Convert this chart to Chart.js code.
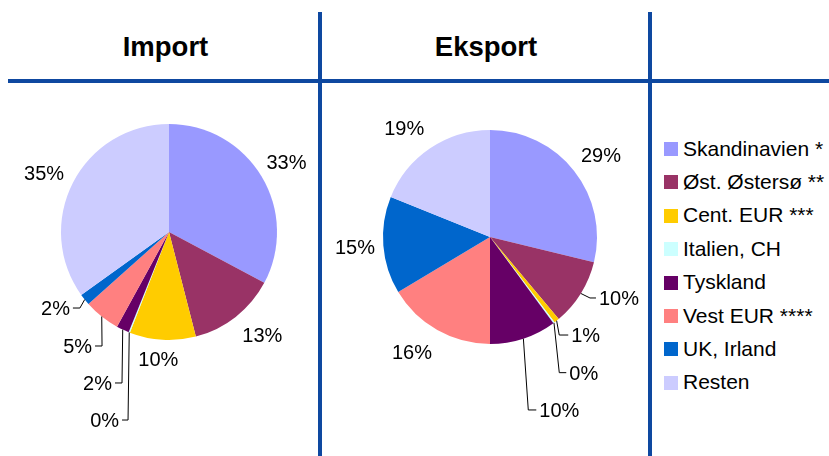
<!DOCTYPE html>
<html><head><meta charset="utf-8">
<script src="https://cdn.jsdelivr.net/npm/chart.js@4.4.0/dist/chart.umd.min.js"></script>
<style>
html,body{margin:0;padding:0;background:#fff;width:829px;height:456px;overflow:hidden;position:relative;font-family:"Liberation Sans",Arial,sans-serif;}
.ln{position:absolute;background:#0E48A0;z-index:2;}
.hdr{position:absolute;font-weight:bold;font-size:27.5px;line-height:30px;color:#000;text-align:center;width:200px;}
canvas{position:absolute;}
.lg-sq{position:absolute;width:14px;height:14px;}
.lg-tx{position:absolute;font-size:21px;line-height:21px;white-space:nowrap;color:#000;}
</style></head><body>
<canvas id="cImport" width="318" height="366" style="left:0;top:90px;"></canvas>
<canvas id="cEksport" width="324" height="366" style="left:324px;top:90px;"></canvas>
<div class="ln" style="left:8px;top:79px;width:821px;height:4px;"></div>
<div class="ln" style="left:318px;top:12px;width:4px;height:444px;"></div>
<div class="ln" style="left:648px;top:12px;width:4px;height:444px;"></div>
<div id="h0" class="hdr" style="left:65.5px;top:31.5px;"></div>
<div id="h1" class="hdr" style="left:386px;top:31.5px;"></div>
<div id="legend"></div>
<script>
const categories = ['Skandinavien *','Øst. Østersø **','Cent. EUR ***','Italien, CH','Tyskland','Vest EUR ****','UK, Irland','Resten'];
const importValues = [32.8, 13.2, 9.9, 0.2, 1.9, 5.4, 1.7, 34.9];
const eksportValues = [28.8, 10.1, 0.8, 0.2, 10.1, 16.4, 14.7, 18.9];
const sliceColors = ['#9999FF','#993366','#FFCC00','#CCFFFF','#660066','#FF8080','#0066CC','#CCCCFF'];
const panelTitles = ['Import','Eksport'];

// label placement: d = distance from centre, a = angle shift (deg); leader = [dx, dy, horizontal]
const importLabelLayout = [{d:137,a:0},{d:139,a:-4},{d:127.5,a:1.4},{leader:[-1.2,87.6,-6]},{leader:[-0.7,53.4,-7]},{leader:[0.3,29.5,-7]},{leader:[-4.8,8.5,-7]},{d:138,a:-2}];
const eksportLabelLayout = [{d:138,a:1.7},{leader:[9.1,4.5,6]},{leader:[2.6,14.3,9]},{leader:[5.3,49.9,7]},{leader:[4.9,71.3,8]},{d:138.5,a:4.8},{d:135.4,a:0.3},{d:139,a:-4.1}];

document.getElementById('h0').textContent = panelTitles[0];
document.getElementById('h1').textContent = panelTitles[1];

const lg = document.getElementById('legend');
categories.forEach((c,i)=>{
  const cy = 149 + i*33.4;
  const sq = document.createElement('div');
  sq.className='lg-sq'; sq.style.left='664px'; sq.style.top=(cy-7)+'px'; sq.style.background=sliceColors[i];
  const tx = document.createElement('div');
  tx.className='lg-tx'; tx.style.left='683px'; tx.style.top=(cy-11.5)+'px'; tx.textContent=c;
  lg.appendChild(sq); lg.appendChild(tx);
});

const pctLabels = {
  id:'pctLabels',
  afterDatasetsDraw(chart, args, opts){
    const ctx = chart.ctx; const meta = chart.getDatasetMeta(0);
    const data = chart.data.datasets[0].data;
    ctx.save();
    ctx.font = '20px "Liberation Sans", Arial, sans-serif';
    ctx.fillStyle='#000'; ctx.strokeStyle='#000'; ctx.lineWidth=1;
    meta.data.forEach((arc,i)=>{
      const p = arc.getProps(['x','y','startAngle','endAngle','outerRadius'], true);
      const mid = (p.startAngle+p.endAngle)/2;
      const txt = Math.round(data[i])+'%';
      const L = opts.layout[i];
      if (L.leader){
        const [dx,dy,h] = L.leader;
        const sx = p.x + p.outerRadius*Math.cos(mid), sy = p.y + p.outerRadius*Math.sin(mid);
        const ex = sx+dx, ey = sy+dy, tx = ex+h;
        ctx.beginPath(); ctx.moveTo(sx,sy); ctx.lineTo(ex,ey); ctx.lineTo(tx,ey); ctx.stroke();
        ctx.textAlign = h<0 ? 'right' : 'left';
        ctx.fillText(txt, tx + (h<0?-3:3), ey + 7.2);
      } else {
        const a = mid + L.a*Math.PI/180;
        const cx = p.x + L.d*Math.cos(a), cy = p.y + L.d*Math.sin(a);
        ctx.textAlign='center';
        ctx.fillText(txt, cx, cy+7.2);
      }
    });
    ctx.restore();
  }
};

function makePie(id, values, layout, padding){
  return new Chart(document.getElementById(id), {
    type:'pie',
    data:{labels:categories, datasets:[{data:values, backgroundColor:sliceColors, borderWidth:0}]},
    options:{responsive:false, devicePixelRatio:1, animation:false, events:[],
      layout:{padding},
      plugins:{legend:{display:false}, tooltip:{enabled:false}, pctLabels:{layout}}},
    plugins:[pctLabels]
  });
}
makePie('cImport', importValues, importLabelLayout, {left:61, top:34, right:41, bottom:116});
makePie('cEksport', eksportValues, eksportLabelLayout, {left:59, top:40, right:51, bottom:112});
</script>
</body></html>
